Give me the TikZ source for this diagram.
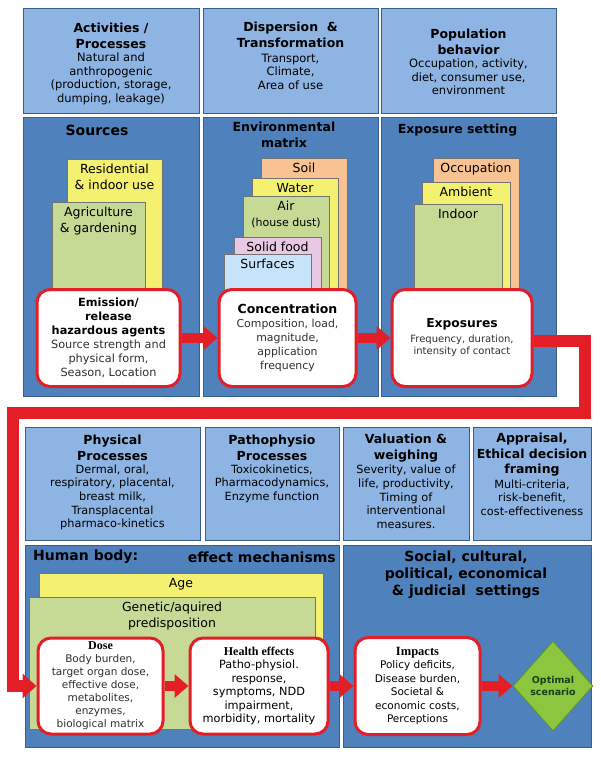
\documentclass[tikz,border=0pt]{standalone}
\usepackage{fontspec}
\setmainfont{DejaVu Sans}
\newfontfamily\hdfont{Liberation Serif}
\usetikzlibrary{arrows.meta,shapes.geometric,positioning}

\definecolor{lightpanel}{HTML}{8EB4E3}
\definecolor{darkpanel}{HTML}{4F81BD}
\definecolor{panelline}{HTML}{3A5F8F}
\definecolor{flowred}{HTML}{E41E26}
\definecolor{stackyellow}{HTML}{F4F070}
\definecolor{stackgreen}{HTML}{C6DA96}
\definecolor{stackorange}{HTML}{F9C293}
\definecolor{stackpink}{HTML}{E8C8E4}
\definecolor{stackblue}{HTML}{C6E3F9}
\definecolor{optgreen}{HTML}{8CC63E}
\definecolor{optline}{HTML}{5F8F2B}
\definecolor{opttext}{HTML}{173F1A}
\definecolor{bodygray}{HTML}{303030}

% panel: name, left, top, right, bottom, fill
\newcommand{\panel}[6]{%
	\node[panelbox, fill=#6, minimum width={#4-#2}, minimum height={#5-#3}, anchor=north west] (#1) at (#2,#3) {};
	}
% coloured layer: name, left, top, right, bottom, fill, label
\newcommand{\layer}[7]{%
	\draw[stackline, fill=#6] (#2,#3) rectangle (#4,#5);
	\node[stacklabel] (#1) at ({(#2+#4)/2},#3+5) {#7};
	}
\newcommand{\hd}[1]{{\color{black}\bfseries #1}}
\newcommand{\hs}[1]{{\color{black}\hdfont\bfseries #1}}

\begin{document}
\begin{tikzpicture}[x=1pt,y=-1pt,
	panelbox/.style={draw=panelline, line width=1.2pt, inner sep=0},
	flowbox/.style={draw=flowred, line width=3pt, fill=white, rounded corners=13pt, align=center, inner sep=0, text=bodygray},
	stackline/.style={draw=black!55, line width=0.7pt},
	stacklabel/.style={font=\fontsize{12.5}{16}\selectfont, align=center, inner sep=0, anchor=north},
	toptitle/.style={font=\fontsize{12.5}{15.5}\selectfont\bfseries, align=center, inner sep=0, anchor=north},
	topbody/.style={font=\fontsize{11.5}{13.5}\selectfont, align=center, inner sep=0},
	bigtitle/.style={font=\fontsize{14}{17}\selectfont\bfseries, align=center, inner sep=0},
	flowarrow/.style={draw=flowred, line width=10pt, -{Triangle[width=23pt,length=14pt]}},
	flowline/.style={draw=flowred, line width=12pt, -{Triangle[width=24pt,length=14pt]}}]
	\useasboundingbox (0,0) rectangle (600,757);

	% panels
	\panel{act}{23}{8}{199}{113}{lightpanel}
	\panel{disp}{203}{8}{378}{113}{lightpanel}
	\panel{popu}{381}{8}{556}{113}{lightpanel}
	\panel{src}{23}{117}{199}{396}{darkpanel}
	\panel{envm}{203}{117}{378}{396}{darkpanel}
	\panel{expset}{381}{117}{556}{396}{darkpanel}
	\panel{phys}{25}{427}{200}{540}{lightpanel}
	\panel{patho}{205}{427}{339}{540}{lightpanel}
	\panel{valu}{343}{427}{469}{540}{lightpanel}
	\panel{appr}{473}{427}{591}{540}{lightpanel}
	\panel{hbody}{25}{545}{339}{747}{darkpanel}
	\panel{soc}{343}{545}{591}{747}{darkpanel}

	% top row
	\node[toptitle] (act-t) at (111,23) {Activities /\\Processes};
	\node[topbody, below=4pt of act-t] (act-b) {Natural and\\anthropogenic\\(production, storage,\\dumping, leakage)};
	\node[toptitle] (disp-t) at (290.5,22) {Dispersion\ \ \&\\Transformation};
	\node[topbody, below=6pt of disp-t] (disp-b) {Transport,\\Climate,\\Area of use};
	\node[toptitle] (popu-t) at (468.5,29) {Population\\behavior};
	\node[topbody, below=4pt of popu-t] (popu-b) {Occupation, activity,\\diet, consumer use,\\environment};

	% middle row
	\node[bigtitle, anchor=north] (src-t) at (97,125) {Sources};
	\node[toptitle] (envm-t) at (284,122) {Environmental\\matrix};
	\node[toptitle] (expset-t) at (457.5,124) {Exposure setting};

	\layer{resi}{67}{159}{162}{300}{stackyellow}{Residential\\\& indoor use}
	\layer{agri}{52}{202}{145}{300}{stackgreen}{Agriculture\\\& gardening}

	\layer{soil}{261}{158}{347}{300}{stackorange}{Soil}
	\layer{water}{252}{178}{338}{300}{stackyellow}{Water}
	\layer{air}{243}{196}{329}{300}{stackgreen}{Air\\{\fontsize{11}{14}\selectfont(house dust)}}
	\layer{food}{234}{237}{321}{300}{stackpink}{Solid food}
	\layer{surf}{224}{254}{311}{300}{stackblue}{Surfaces}

	\layer{occu}{433}{158}{519}{300}{stackorange}{Occupation}
	\layer{ambi}{422}{182}{510}{300}{stackyellow}{Ambient}
	\layer{indo}{414}{204}{502}{300}{stackgreen}{Indoor}

	\node[flowbox, minimum width=143, minimum height=97, font=\fontsize{11.3}{14}\selectfont] (emis) at (108.5,338)
		{\hd{Emission/}\\\hd{release}\\\hd{hazardous agents}\\Source strength and\\physical form,\\Season, Location};
	\node[flowbox, minimum width=137, minimum height=97, font=\fontsize{10.9}{14}\selectfont] (conc) at (287.5,338)
		{\hd{\fontsize{12.5}{14}\selectfont Concentration}\\Composition, load,\\magnitude,\\application\\frequency};
	\node[flowbox, minimum width=140, minimum height=97, font=\fontsize{10}{12.5}\selectfont] (expo) at (462,338)
		{\hd{\fontsize{12.3}{14}\selectfont Exposures}\\[2pt]Frequency, duration,\\intensity of contact};

	% processes row
	\node[toptitle] (phys-t) at (112.5,435) {Physical\\Processes};
	\node[topbody, below=4pt of phys-t, font=\fontsize{11.3}{13.6}\selectfont] (phys-b) {Dermal, oral,\\respiratory, placental,\\breast milk,\\Transplacental\\pharmaco-kinetics};
	\node[toptitle] (patho-t) at (272,435) {Pathophysio\\Processes};
	\node[topbody, below=4pt of patho-t, font=\fontsize{11.3}{13.6}\selectfont] (patho-b) {Toxicokinetics,\\Pharmacodynamics,\\Enzyme function};
	\node[toptitle] (valu-t) at (406,434) {Valuation \&\\weighing};
	\node[topbody, below=3pt of valu-t, font=\fontsize{11.3}{13.6}\selectfont] (valu-b) {Severity, value of\\life, productivity,\\Timing of\\interventional\\measures.};
	\node[toptitle] (appr-t) at (532,433) {Appraisal,\\Ethical decision\\framing};
	\node[topbody, below=3pt of appr-t, font=\fontsize{11.3}{13.6}\selectfont] (appr-b) {Multi-criteria,\\risk-benefit,\\cost-effectiveness};

	% bottom row
	\node[bigtitle, anchor=west] (hbody-t) at (33,557) {Human body:};
	\node[bigtitle, anchor=east] (hbody-m) at (336,557) {effect mechanisms};
	\node[bigtitle, anchor=north] (soc-t) at (466,551) {Social, cultural,\\political, economical\\\&~judicial\ \ settings};

	\layer{age}{39}{573}{323}{650}{stackyellow}{Age}
	\layer{gene}{29}{597}{315}{729}{stackgreen}{Genetic/aquired\\predisposition}

	\node[flowbox, minimum width=125, minimum height=96, font=\fontsize{10.5}{13}\selectfont] (dose) at (100.5,686)
		{\hs{\fontsize{12}{13}\selectfont Dose}\\Body burden,\\target organ dose,\\effective dose,\\metabolites,\\enzymes,\\biological matrix};
	\node[flowbox, minimum width=138, minimum height=96, font=\fontsize{11.3}{13.5}\selectfont, text=black] (heal) at (259,686)
		{\hs{\fontsize{12}{13.5}\selectfont Health effects}\\Patho-physiol.\\response,\\symptoms, NDD\\impairment,\\morbidity, mortality};
	\node[flowbox, minimum width=125, minimum height=97, font=\fontsize{10.5}{13.5}\selectfont, text=black] (impa) at (417.5,686)
		{\hs{\fontsize{12.5}{13.5}\selectfont Impacts}\\Policy deficits,\\Disease burden,\\Societal \&\\economic costs,\\Perceptions};
	\node[diamond, fill=optgreen, draw=optline, line width=0.8pt, minimum width=80, minimum height=90, inner sep=0,
		align=center, text=opttext, font=\fontsize{9.5}{11.5}\selectfont\bfseries] (opt) at (553,686) {Optimal\\scenario};

	% red flow
	\draw[flowarrow] (emis) -- (conc);
	\draw[flowarrow] (conc) -- (expo);
	\coordinate (rturn) at (585,413);
	\coordinate (lturn) at (13,413);
	\draw[flowline] ([yshift=-3pt]expo.east) -| (rturn) -- (lturn) |- (dose.west);
	\draw[flowarrow] (dose) -- (heal);
	\draw[flowarrow] (heal) -- (impa);
	\draw[flowarrow] (impa) -- (opt);
\end{tikzpicture}
\end{document}
